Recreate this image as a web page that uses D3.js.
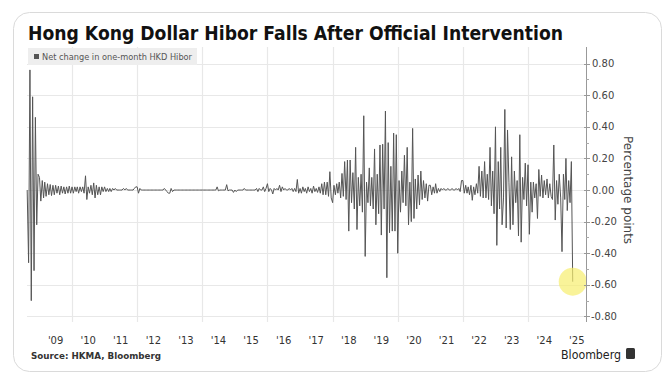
<!DOCTYPE html>
<html>
<head>
<meta charset="utf-8">
<script src="https://cdn.jsdelivr.net/npm/d3@7"></script>
<style>
  html, body { margin: 0; padding: 0; background: #fff; }
  svg { display: block; font-family: "DejaVu Sans", sans-serif; }
</style>
</head>
<body>
<svg id="chart" width="671" height="382"></svg>
<script>
const title = "Hong Kong Dollar Hibor Falls After Official Intervention"
const legendLabel = "Net change in one-month HKD Hibor"
const yAxisLabel = "Percentage points"
const sourceLabel = "Source: HKMA, Bloomberg"

// semi-monthly net changes (1st and 16th of each month), percentage points
// 2008 starts at slot 15 (mid-August)
const chg2008 = [0, -0.46, 0.76, -0.70, 0.59, -0.51, 0.46, -0.22, 0.10]
const chg2009 = [0.08, -0.07, 0.06, -0.05, 0.05, -0.04, 0.04, -0.03, 0.035, -0.035, 0.03, -0.03, 0.03, -0.02, 0.025, -0.03, 0.025, -0.02, 0.02, -0.025, 0.02, -0.02, 0.025, -0.02]
const chg2010 = [0.02, -0.02, 0.02, -0.01, 0.02, -0.02, 0.02, -0.01, 0.02, -0.02, 0.09, -0.06, 0.02, -0.02, 0.03, -0.03, 0.045, -0.05, 0.03, -0.03, 0.02, -0.03, 0.02, -0.01]
const chg2011 = [0.02, -0.01, 0.01, -0.01, 0.01, -0.01, 0.01, 0, 0.01, 0, 0, 0, 0, 0, 0.01, 0, 0.01, 0, 0, 0, 0, 0, 0.01, 0.02]
const chg2012 = [0.02, -0.02, 0.01, 0, 0, 0, 0, 0, 0, 0, 0, 0, 0, 0, 0, 0, 0, 0, 0, 0, 0.01, 0, -0.01, -0.02]
const chg2013 = [-0.02, 0.01, -0.01, 0, 0, 0, 0, 0, 0, 0, 0, 0, 0, 0, 0, 0, 0, 0, 0, 0, 0, 0, 0, 0]
const chg2014 = [0, 0, 0, 0, 0, 0, 0, 0, 0, 0, 0, 0.02, -0.005, 0, 0, 0, 0, 0, 0.034, -0.005, 0, 0, 0, -0.015]
const chg2015 = [0, -0.01, 0, 0, 0, 0, 0, 0.01, 0, 0, 0, 0, 0, 0, 0, 0, 0.01, -0.01, 0.01, 0, 0, 0.02, -0.01, 0.01]
const chg2016 = [0.04, -0.01, 0.01, 0, -0.025, 0.01, 0, 0.01, 0, 0.03, -0.01, 0.02, 0, 0.01, 0, 0, 0.01, 0, 0.01, -0.01, 0.01, -0.01, 0.067, -0.02]
const chg2017 = [0.01, -0.02, 0.02, -0.01, 0.01, -0.02, 0.02, -0.01, 0.01, -0.02, 0.025, -0.01, 0.01, -0.015, 0.02, -0.02, 0.04, -0.03, 0.05, -0.03, 0.05, -0.04, 0.116, -0.05]
const chg2018 = [-0.08, 0.03, -0.03, 0.04, -0.02, 0.05, -0.05, 0.105, -0.04, 0.18, -0.06, 0.19, -0.26, 0.19, -0.08, 0.11, -0.12, 0.27, -0.25, 0.08, -0.10, 0.10, -0.14, 0.47]
const chg2019 = [-0.42, 0.05, -0.08, 0.14, -0.10, 0.08, -0.12, 0.26, -0.22, 0.10, -0.15, 0.285, -0.285, 0.29, -0.12, 0.50, -0.555, 0.30, -0.27, 0.15, -0.26, 0.36, -0.26, 0.35]
const chg2020 = [-0.40, 0.06, -0.14, 0.12, -0.08, 0.22, -0.10, 0.27, -0.22, 0.05, -0.20, 0.39, -0.18, 0.07, -0.12, 0.095, -0.095, 0.12, -0.06, 0.06, -0.05, 0.04, -0.07, 0.03]
const chg2021 = [0.03, -0.03, 0.02, -0.02, 0.04, -0.02, 0.01, -0.01, 0.01, 0, 0.01, 0, 0, 0.01, 0, 0, 0.01, 0, 0, 0.01, 0, 0.01, -0.01, 0.06]
const chg2022 = [0.06, -0.02, 0.03, -0.02, 0.02, -0.03, 0.03, -0.065, 0.02, -0.03, 0.04, -0.02, 0.15, -0.04, 0.12, -0.05, 0.18, -0.05, 0.10, -0.06, 0.27, -0.10, 0.12, -0.15]
const chg2023 = [0.40, -0.35, 0.18, -0.12, 0.27, -0.22, -0.05, 0.51, -0.24, 0.38, 0.05, -0.25, 0.21, -0.22, 0.12, -0.08, 0.06, -0.29, 0.35, -0.33, 0.08, -0.06, 0.17, -0.10]
const chg2024 = [0.16, -0.28, 0.05, -0.14, 0.05, -0.05, 0.04, -0.18, 0.13, -0.04, 0.095, -0.05, 0.06, -0.03, 0.07, -0.05, 0.04, -0.04, -0.06, 0.285, -0.19, 0.06, -0.09, 0.10]
const chg2025 = [-0.05, -0.39, 0.10, -0.06, 0.20, -0.13, 0.06, -0.08, 0.18, -0.58]

const yearly = [
  [2008, 15, chg2008], [2009, 0, chg2009], [2010, 0, chg2010], [2011, 0, chg2011],
  [2012, 0, chg2012], [2013, 0, chg2013], [2014, 0, chg2014], [2015, 0, chg2015],
  [2016, 0, chg2016], [2017, 0, chg2017], [2018, 0, chg2018], [2019, 0, chg2019],
  [2020, 0, chg2020], [2021, 0, chg2021], [2022, 0, chg2022], [2023, 0, chg2023],
  [2024, 0, chg2024], [2025, 0, chg2025]
]

const yTicks = [-0.8, -0.6, -0.4, -0.2, 0, 0.2, 0.4, 0.6, 0.8]
const yMinorTicks = [-0.7, -0.5, -0.3, -0.1, 0.1, 0.3, 0.5, 0.7]
const xLabelYears = d3.range(2009, 2026)
const xGridYears = [2010, 2012, 2014, 2016, 2018, 2020, 2022, 2024]

const data = []
yearly.forEach(([year, first, vals]) => {
  vals.forEach((v, i) => {
    const k = first + i
    data.push({ date: new Date(year, Math.floor(k / 2), k % 2 ? 16 : 1), value: v })
  })
})

const width = 671
const height = 382
const plot = { left: 27, right: 586, top: 47, bottom: 322 }

const svg = d3.select("#chart")

// card
svg.append("rect")
  .attr("x", 13.5).attr("y", 12.5)
  .attr("width", 648).attr("height", 359)
  .attr("rx", 16)
  .attr("fill", "#fff")
  .attr("stroke", "#dadada")

const x = d3.scaleTime()
  .domain([new Date(2008, 7, 14), new Date(2025, 9, 12)])
  .range([plot.left, plot.right])

const y = d3.scaleLinear()
  .domain([-0.835, 0.905])
  .range([plot.bottom, plot.top])

// grid
svg.append("g")
  .selectAll("line")
  .data(yTicks)
  .join("line")
  .attr("x1", plot.left).attr("x2", plot.right)
  .attr("y1", d => Math.round(y(d)) + 0.5).attr("y2", d => Math.round(y(d)) + 0.5)
  .attr("stroke", "#e8e8e8")
  .attr("stroke-width", 1.2)

svg.append("g")
  .selectAll("line")
  .data(xGridYears)
  .join("line")
  .attr("x1", d => Math.round(x(new Date(d, 0, 1))) + 0.5)
  .attr("x2", d => Math.round(x(new Date(d, 0, 1))) + 0.5)
  .attr("y1", plot.top).attr("y2", plot.bottom)
  .attr("stroke", "#e8e8e8")
  .attr("stroke-width", 1.2)

// series
const line = d3.line()
  .x(d => x(d.date))
  .y(d => y(d.value))

svg.append("path")
  .datum(data)
  .attr("fill", "none")
  .attr("stroke", "#555")
  .attr("stroke-width", 1)
  .attr("d", line)

// highlight on the last drop
const last = data[data.length - 1]
svg.append("circle")
  .attr("cx", x(last.date))
  .attr("cy", y(last.value))
  .attr("r", 14)
  .attr("fill", "rgba(246, 238, 110, 0.7)")

// legend
svg.append("rect")
  .attr("x", 28).attr("y", 48)
  .attr("width", 169).attr("height", 17)
  .attr("fill", "#eeeeee")

svg.append("rect")
  .attr("x", 34).attr("y", 54)
  .attr("width", 5).attr("height", 5)
  .attr("fill", "#555")

svg.append("text")
  .attr("x", 42).attr("y", 60)
  .attr("font-size", 9)
  .attr("fill", "#555")
  .attr("textLength", 150)
  .attr("lengthAdjust", "spacingAndGlyphs")
  .text(legendLabel)

// y axis on the right
const fmt = d => d3.format(".2f")(d).replace("\u2212", "-")

svg.append("line")
  .attr("x1", plot.right + 0.5).attr("x2", plot.right + 0.5)
  .attr("y1", plot.top).attr("y2", plot.bottom)
  .attr("stroke", "#999")

svg.append("g")
  .selectAll("line")
  .data(yTicks)
  .join("line")
  .attr("x1", plot.right - 2).attr("x2", plot.right + 4)
  .attr("y1", d => Math.round(y(d)) + 0.5).attr("y2", d => Math.round(y(d)) + 0.5)
  .attr("stroke", "#999")

svg.append("g")
  .selectAll("line")
  .data(yMinorTicks)
  .join("line")
  .attr("x1", plot.right).attr("x2", plot.right + 3)
  .attr("y1", d => Math.round(y(d)) + 0.5).attr("y2", d => Math.round(y(d)) + 0.5)
  .attr("stroke", "#aaa")

svg.append("g")
  .selectAll("text")
  .data(yTicks)
  .join("text")
  .attr("x", d => d < 0 ? plot.right + 5 : plot.right + 6)
  .attr("y", d => y(d) + 3.5)
  .attr("font-size", 10)
  .attr("fill", "#444")
  .text(fmt)

svg.append("text")
  .attr("transform", `translate(624,${y(0)}) rotate(90)`)
  .attr("text-anchor", "middle")
  .attr("font-size", 12)
  .attr("fill", "#444")
  .text(yAxisLabel)

// x labels, centred on each year
svg.append("g")
  .selectAll("text")
  .data(xLabelYears)
  .join("text")
  .attr("x", d => x(new Date(d, 6, 1)))
  .attr("y", 344)
  .attr("text-anchor", "middle")
  .attr("font-size", 10)
  .attr("fill", "#333")
  .text(d => "'" + String(d).slice(2))

// title and footer
svg.append("text")
  .attr("x", 28).attr("y", 40)
  .attr("font-size", 19)
  .attr("font-weight", "bold")
  .attr("fill", "#111")
  .attr("textLength", 535)
  .attr("lengthAdjust", "spacingAndGlyphs")
  .text(title)

svg.append("text")
  .attr("x", 31).attr("y", 359)
  .attr("font-size", 9)
  .attr("font-weight", "bold")
  .attr("fill", "#333")
  .attr("textLength", 130)
  .attr("lengthAdjust", "spacingAndGlyphs")
  .text(sourceLabel)

svg.append("text")
  .attr("x", 561).attr("y", 359)
  .attr("font-size", 12)
  .attr("fill", "#222")
  .attr("textLength", 60)
  .attr("lengthAdjust", "spacingAndGlyphs")
  .text("Bloomberg")

svg.append("rect")
  .attr("x", 626).attr("y", 348)
  .attr("width", 9).attr("height", 11)
  .attr("rx", 1.5)
  .attr("fill", "#333")
</script>
</body>
</html>
